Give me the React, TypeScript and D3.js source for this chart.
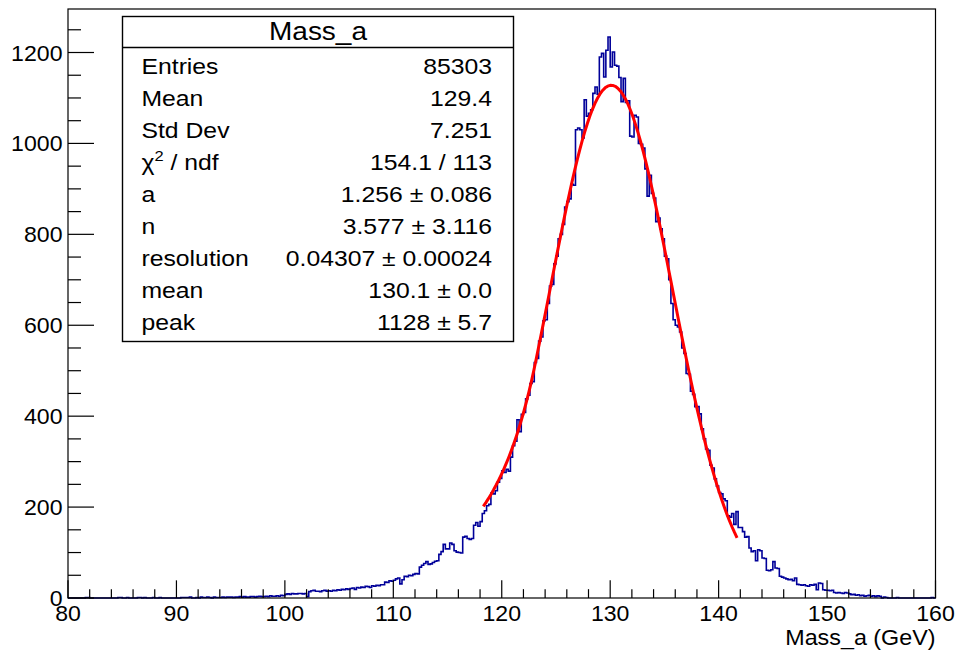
import React from "react";
import * as d3 from "d3";

// Histogram binning: 400 bins of 0.2 GeV between 80 and 160 GeV
const X_MIN = 80;
const X_MAX = 160;
const BIN_WIDTH = 0.2;

// Bin contents, five bins per GeV, ten per row
const counts: number[] = [
  0, 0, 0, 0, 0, 0, 0, 0, 1, 1,
  0, 0, 0, 0, 0, 0, 0, 0, 0, 0,
  0, 0, 0, 1, 1, 0, 0, 1, 0, 0,
  0, 0, 1, 1, 0, 1, 0, 0, 0, 1,
  0, 0, 1, 0, 0, 0, 0, 0, 0, 0,
  0, 0, 1, 1, 1, 1, 2, 0, 0, 1,
  0, 2, 1, 1, 2, 1, 0, 2, 1, 1,
  1, 2, 1, 2, 2, 2, 1, 2, 2, 3,
  2, 3, 2, 2, 3, 3, 2, 3, 4, 3,
  3, 4, 3, 5, 4, 4, 5, 4, 6, 5,
  8, 9, 8, 10, 9, 9, 10, 10, 9, 10,
  3, 14, 16, 17, 15, 15, 14, 16, 17, 15,
  16, 15, 17, 16, 18, 17, 19, 18, 20, 19,
  21, 22, 19, 23, 22, 24, 23, 26, 25, 23,
  27, 26, 28, 27, 29, 29, 35, 34, 38, 37,
  39, 42, 44, 31, 40, 48, 47, 50, 49, 52,
  54, 53, 68, 72, 76, 80, 74, 75, 78, 81,
  82, 96, 102, 118, 108, 108, 121, 118, 104, 101,
  100, 99, 134, 136, 131, 129, 131, 160, 166, 158,
  168, 186, 192, 203, 206, 231, 229, 236, 255, 263,
  280, 276, 283, 279, 310, 335, 345, 392, 366, 404,
  408, 438, 446, 472, 476, 518, 527, 565, 574, 610,
  612, 648, 686, 690, 735, 752, 790, 800, 822, 860,
  872, 878, 910, 908, 1030, 1034, 1030, 1012, 1096, 1060,
  1066, 1074, 1110, 1124, 1108, 1190, 1198, 1146, 1205, 1234,
  1168, 1201, 1172, 1170, 1145, 1092, 1143, 1090, 1094, 1016,
  1014, 1062, 1058, 1000, 998, 990, 944, 884, 930, 890,
  880, 828, 836, 812, 790, 752, 746, 700, 648, 612,
  600, 596, 585, 550, 538, 494, 492, 455, 448, 421,
  421, 405, 372, 350, 328, 325, 292, 286, 262, 246,
  232, 229, 218, 214, 181, 178, 186, 162, 190, 155,
  155, 146, 134, 135, 110, 102, 104, 82, 106, 104,
  88, 87, 61, 60, 62, 80, 66, 65, 48, 46,
  44, 42, 40, 41, 38, 44, 30, 29, 28, 29,
  27, 26, 29, 28, 30, 18, 33, 32, 18, 17,
  17, 16, 17, 12, 11, 12, 11, 10, 12, 11,
  9, 7, 8, 6, 7, 5, 6, 4, 5, 6,
  4, 5, 3, 5, 4, 0, 2, 1, 0, 0,
  0, 0, 1, 0, 0, 0, 0, 0, 0, 0,
  0, 0, 0, 0, 0, 0, 0, 0, 1, 0,
];

// Axis ticks
const xMajorTicks = [80, 90, 100, 110, 120, 130, 140, 150, 160];
const yMajorTicks = [0, 200, 400, 600, 800, 1000, 1200];
const xTitle = "Mass_a (GeV)";

// Crystal Ball fit parameters
const FIT_A = 1.256;
const FIT_N = 3.577;
const FIT_RESOLUTION = 0.04307;
const FIT_MEAN = 130.1;
const FIT_PEAK = 1128;
const FIT_RANGE = [118.3, 141.7];

// Statistics box
const statTitle = "Mass_a";
const statLabels = ["Entries", "Mean", "Std Dev", "χ2 / ndf", "a", "n", "resolution", "mean", "peak"];
const statValues = [
  "85303",
  "129.4",
  "7.251",
  "154.1 / 113",
  "1.256 ± 0.086",
  "3.577 ± 3.116",
  "0.04307 ± 0.00024",
  "130.1 ± 0.0",
  "1128 ± 5.7",
];

const W = 955;
const H = 652;
const FONT = "'Liberation Sans', Arial, Helvetica, sans-serif";
const HIST_COLOR = "#000099";

function crystalBall(x: number): number {
  const sigma = FIT_RESOLUTION * FIT_MEAN;
  const t = (x - FIT_MEAN) / sigma;
  if (t > -FIT_A) return FIT_PEAK * Math.exp(-0.5 * t * t);
  const A = Math.pow(FIT_N / FIT_A, FIT_N) * Math.exp(-0.5 * FIT_A * FIT_A);
  const B = FIT_N / FIT_A - FIT_A;
  return FIT_PEAK * A * Math.pow(B - t, -FIT_N);
}

// Text with a slightly widened glyph run, anchored at (x, y)
function SText(props: {
  x: number;
  y: number;
  size: number;
  anchor?: "start" | "middle" | "end";
  sx?: number;
  children: React.ReactNode;
}) {
  const { x, y, size, anchor = "start", sx = 1.08, children } = props;
  return (
    <text
      transform={`translate(${x},${y}) scale(${sx},1)`}
      fontSize={size}
      textAnchor={anchor}
      fill="#000"
    >
      {children}
    </text>
  );
}

export default function App() {
  const frame = { left: 68, right: 935.5, top: 9, bottom: 598 };
  const yMax = 1.05 * (d3.max(counts) ?? 1);

  const x = d3.scaleLinear().domain([X_MIN, X_MAX]).range([frame.left, frame.right]);
  const y = d3.scaleLinear().domain([0, yMax]).range([frame.bottom, frame.top]);

  // step outline of the histogram
  const p = d3.path();
  p.moveTo(x(X_MIN), y(0));
  counts.forEach((c, i) => {
    const lo = X_MIN + i * BIN_WIDTH;
    const hi = lo + BIN_WIDTH;
    p.lineTo(x(lo), y(c));
    p.lineTo(x(hi), y(c));
  });
  p.lineTo(x(X_MAX), y(0));

  // fit curve sampled like a TF1 with 100 points
  const npx = 100;
  const fitPts = d3.range(npx + 1).map((i) => {
    const xv = FIT_RANGE[0] + (i * (FIT_RANGE[1] - FIT_RANGE[0])) / npx;
    return [xv, crystalBall(xv)] as [number, number];
  });
  const fitLine = d3
    .line<[number, number]>()
    .x((d) => x(d[0]))
    .y((d) => y(d[1]))(fitPts);

  const xMinor = d3.range(X_MIN, X_MAX + 0.001, 2).filter((v) => v % 10 !== 0);
  const yMinor = d3.range(0, yMax, 50).filter((v) => v % 200 !== 0);
  const xTickLen = 0.03 * (frame.bottom - frame.top);
  const yTickLen = 0.03 * (frame.right - frame.left);

  const box = { left: 122.5, right: 513.5, top: 16.5, bottom: 341.5, sep: 47.5 };
  const rowY0 = 73.5;
  const rowStep = 32.07;
  const statSize = 22.5;

  return (
    <svg
      width={W}
      height={H}
      viewBox={`0 0 ${W} ${H}`}
      style={{ position: "absolute", left: 0, top: 0, background: "#fff" }}
      fontFamily={FONT}
    >
      <rect x={0} y={0} width={W} height={H} fill="#fff" />

      {/* histogram */}
      <path d={p.toString()} fill="none" stroke={HIST_COLOR} strokeWidth={1.6} />

      {/* fit */}
      <path d={fitLine ?? ""} fill="none" stroke="#ff0000" strokeWidth={3} strokeLinejoin="round" />

      {/* frame */}
      <rect
        x={frame.left}
        y={frame.top}
        width={frame.right - frame.left}
        height={frame.bottom - frame.top}
        fill="none"
        stroke="#000"
        strokeWidth={1.2}
      />

      {/* x axis ticks */}
      {xMajorTicks.map((v) => (
        <line key={`xM${v}`} x1={x(v)} x2={x(v)} y1={frame.bottom} y2={frame.bottom - xTickLen} stroke="#000" strokeWidth={1.2} />
      ))}
      {xMinor.map((v) => (
        <line key={`xm${v}`} x1={x(v)} x2={x(v)} y1={frame.bottom} y2={frame.bottom - xTickLen / 2} stroke="#000" strokeWidth={1.2} />
      ))}
      {xMajorTicks.map((v) => (
        <SText key={`xl${v}`} x={x(v)} y={621} size={22} anchor="middle" sx={1.05}>
          {v}
        </SText>
      ))}
      <SText x={frame.right} y={644.5} size={22} anchor="end" sx={1.06}>
        {xTitle}
      </SText>

      {/* y axis ticks */}
      {yMajorTicks.map((v) => (
        <line key={`yM${v}`} x1={frame.left} x2={frame.left + yTickLen} y1={y(v)} y2={y(v)} stroke="#000" strokeWidth={1.2} />
      ))}
      {yMinor.map((v) => (
        <line key={`ym${v}`} x1={frame.left} x2={frame.left + yTickLen / 2} y1={y(v)} y2={y(v)} stroke="#000" strokeWidth={1.2} />
      ))}
      {yMajorTicks.map((v) => (
        <SText key={`yl${v}`} x={62.5} y={y(v) + 8} size={22} anchor="end" sx={1.05}>
          {v}
        </SText>
      ))}

      {/* statistics box */}
      <rect
        x={box.left}
        y={box.top}
        width={box.right - box.left}
        height={box.bottom - box.top}
        fill="#fff"
        stroke="#000"
        strokeWidth={1.4}
      />
      <line x1={box.left} x2={box.right} y1={box.sep} y2={box.sep} stroke="#000" strokeWidth={1.4} />
      <SText x={(box.left + box.right) / 2} y={39.5} size={25} anchor="middle" sx={1.12}>
        {statTitle}
      </SText>
      {statLabels.map((lab, i) => {
        const yy = rowY0 + i * rowStep;
        const isChi = lab.startsWith("χ2");
        return (
          <g key={lab}>
            {isChi ? (
              <SText x={141.5} y={yy} size={statSize} sx={1.1}>
                <tspan>χ</tspan>
                <tspan fontSize={15} dy={-9}>2</tspan>
                <tspan dy={9}>{lab.slice(2)}</tspan>
              </SText>
            ) : (
              <SText x={141.5} y={yy} size={statSize} sx={1.1}>
                {lab}
              </SText>
            )}
            <SText x={492} y={yy} size={statSize} anchor="end" sx={1.1}>
              {statValues[i]}
            </SText>
          </g>
        );
      })}
    </svg>
  );
}
